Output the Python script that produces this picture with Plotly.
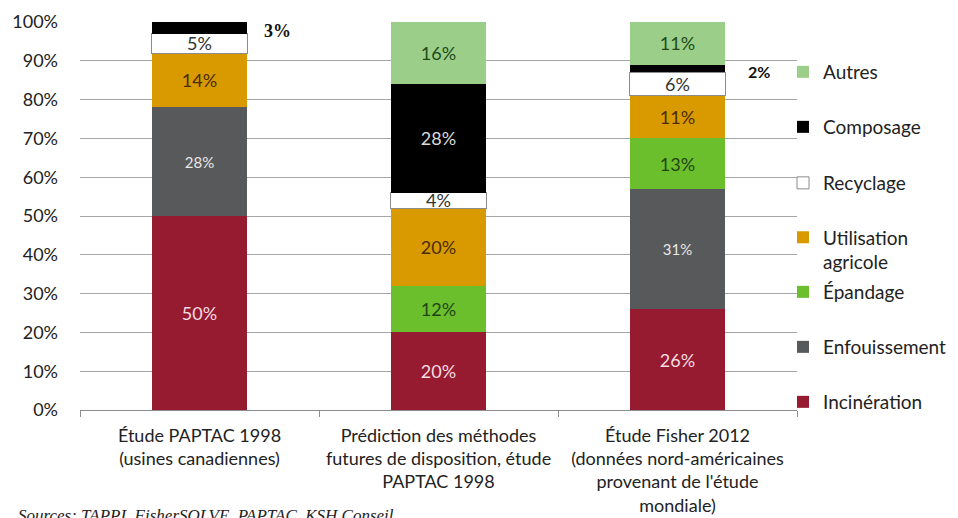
import plotly.graph_objects as go

# ---------------- data ----------------
categories = [
    "Étude PAPTAC 1998<br>(usines canadiennes)",
    "Prédiction des méthodes<br>futures de disposition, étude<br>PAPTAC 1998",
    "Étude Fisher 2012<br>(données nord-américaines<br>provenant de l'étude<br>mondiale)",
]
series_names = ["Incinération", "Enfouissement", "Épandage", "Utilisation<br>agricole",
                "Recyclage", "Composage", "Autres"]
incineration = [50, 20, 26]
enfouissement = [28, 0, 31]
epandage = [0, 12, 13]
utilisation = [14, 20, 11]
recyclage = [5, 4, 6]
composage = [3, 28, 2]
autres = [0, 16, 11]
y_tick_values = [0, 10, 20, 30, 40, 50, 60, 70, 80, 90, 100]
y_tick_labels = ["0%", "10%", "20%", "30%", "40%", "50%", "60%", "70%", "80%", "90%", "100%"]
source_text = "Sources: TAPPI, FisherSOLVE, PAPTAC, KSH Conseil"

series_values = [incineration, enfouissement, epandage, utilisation, recyclage, composage, autres]
# labels drawn outside the bar (series index, category index)
outside_labels = [(5, 0), (5, 2)]

# ---------------- styles ----------------
FONT = "Lato"
colors = ["#961A30", "#58595B", "#6CBF2C", "#D99A00", "#FFFFFF", "#000000", "#9BCF89"]
text_colors = ["#F3DDE0", "#E8E8E8", "#1F4512", "#4A2C00", "#333333", "#DADADA", "#1F4A1A"]
text_sizes = [18, 15, 18, 18, 18, 18, 18]

# page offset (browser body margin) -> work in screen pixels
OFF = 8
W, H = 958 - OFF, 518 - OFF
PLOT_LEFT, PLOT_RIGHT, PLOT_TOP, PLOT_BOTTOM = 80, 797, 22, 410   # screen px
L = PLOT_LEFT - OFF
T = PLOT_TOP - OFF
R = W - (PLOT_RIGHT - OFF)
B = H - (PLOT_BOTTOM - OFF)
plot_h = PLOT_BOTTOM - PLOT_TOP
plot_w = PLOT_RIGHT - PLOT_LEFT

legend_px = [402, 347, 292, 250, 183, 127, 72]   # legend item centres, screen px


def py_to_paper(py):
    return (PLOT_BOTTOM - py) / plot_h


def px_to_paper(px):
    return (px - PLOT_LEFT) / plot_w


fig = go.Figure()
for i, (name, vals) in enumerate(zip(series_names, series_values)):
    texts = []
    for j, v in enumerate(vals):
        if v > 0 and (i, j) not in outside_labels:
            texts.append(f"{v}%")
        else:
            texts.append("")
    lname = "legend" if i == 0 else f"legend{i + 1}"
    is_recy = name == "Recyclage"
    fig.add_trace(go.Bar(
        x=categories, y=vals, name=name,
        marker=dict(color=colors[i],
                    line=dict(color="#8C8C8C" if is_recy else colors[i],
                              width=1 if is_recy else 0)),
        text=texts, textposition="inside", insidetextanchor="middle",
        textfont=dict(family=FONT, size=text_sizes[i], color=text_colors[i]),
        constraintext="none", cliponaxis=False,
        hoverinfo="skip", legend=lname,
    ))

# outside labels
for (si, ci) in outside_labels:
    cum = sum(series_values[k][ci] for k in range(si)) + series_values[si][ci] / 2
    fig.add_annotation(
        x=categories[ci], y=cum, xref="x", yref="y",
        text=f"<b>{series_values[si][ci]}%</b>", showarrow=False,
        xshift=78 if ci == 0 else 81, yshift=-3,
        font=dict(family="Liberation Serif" if ci == 0 else FONT,
                  size=18 if ci == 0 else 16, color="#111111"),
    )

fig.add_annotation(
    x=px_to_paper(16), y=py_to_paper(504), xref="paper", yref="paper",
    xanchor="left", yanchor="top", showarrow=False, text=f"<i>{source_text}</i>",
    font=dict(family="Liberation Serif", size=17, color="#222222"),
)

legend_x = px_to_paper(783)
legends = {}
for i, py in enumerate(legend_px):
    key = "legend" if i == 0 else f"legend{i + 1}"
    legends[key] = dict(
        x=legend_x, xanchor="left", y=py_to_paper(py), yanchor="middle",
        font=dict(family=FONT, size=19, color="#222222"),
        bgcolor="rgba(0,0,0,0)", borderwidth=0,
        valign="top",
        itemclick=False, itemdoubleclick=False,
    )

fig.update_layout(
    width=W, height=H,
    margin=dict(l=L, r=R, t=T, b=B, autoexpand=False),
    barmode="stack", bargap=0.6,
    plot_bgcolor="white", paper_bgcolor="white",
    font=dict(family=FONT, size=18, color="#222222"),
    showlegend=True,
    xaxis=dict(
        type="category", showline=True, linecolor="#8C8C8C", linewidth=1,
        ticks="outside", tickson="boundaries", ticklen=6, tickcolor="#8C8C8C",
        ticklabelstandoff=9, automargin=False,
        showgrid=False, tickfont=dict(family=FONT, size=18, color="#222222"),
        fixedrange=True,
    ),
    yaxis=dict(
        range=[0, 100], tickmode="array", tickvals=y_tick_values, ticktext=y_tick_labels,
        showgrid=True, gridcolor="#A6A6A6", gridwidth=1,
        showline=False, zeroline=False, ticks="",
        ticklabelstandoff=21, automargin=False,
        tickfont=dict(family=FONT, size=18, color="#222222"),
        fixedrange=True,
    ),
    **legends,
)

fig.write_html("out.html")
